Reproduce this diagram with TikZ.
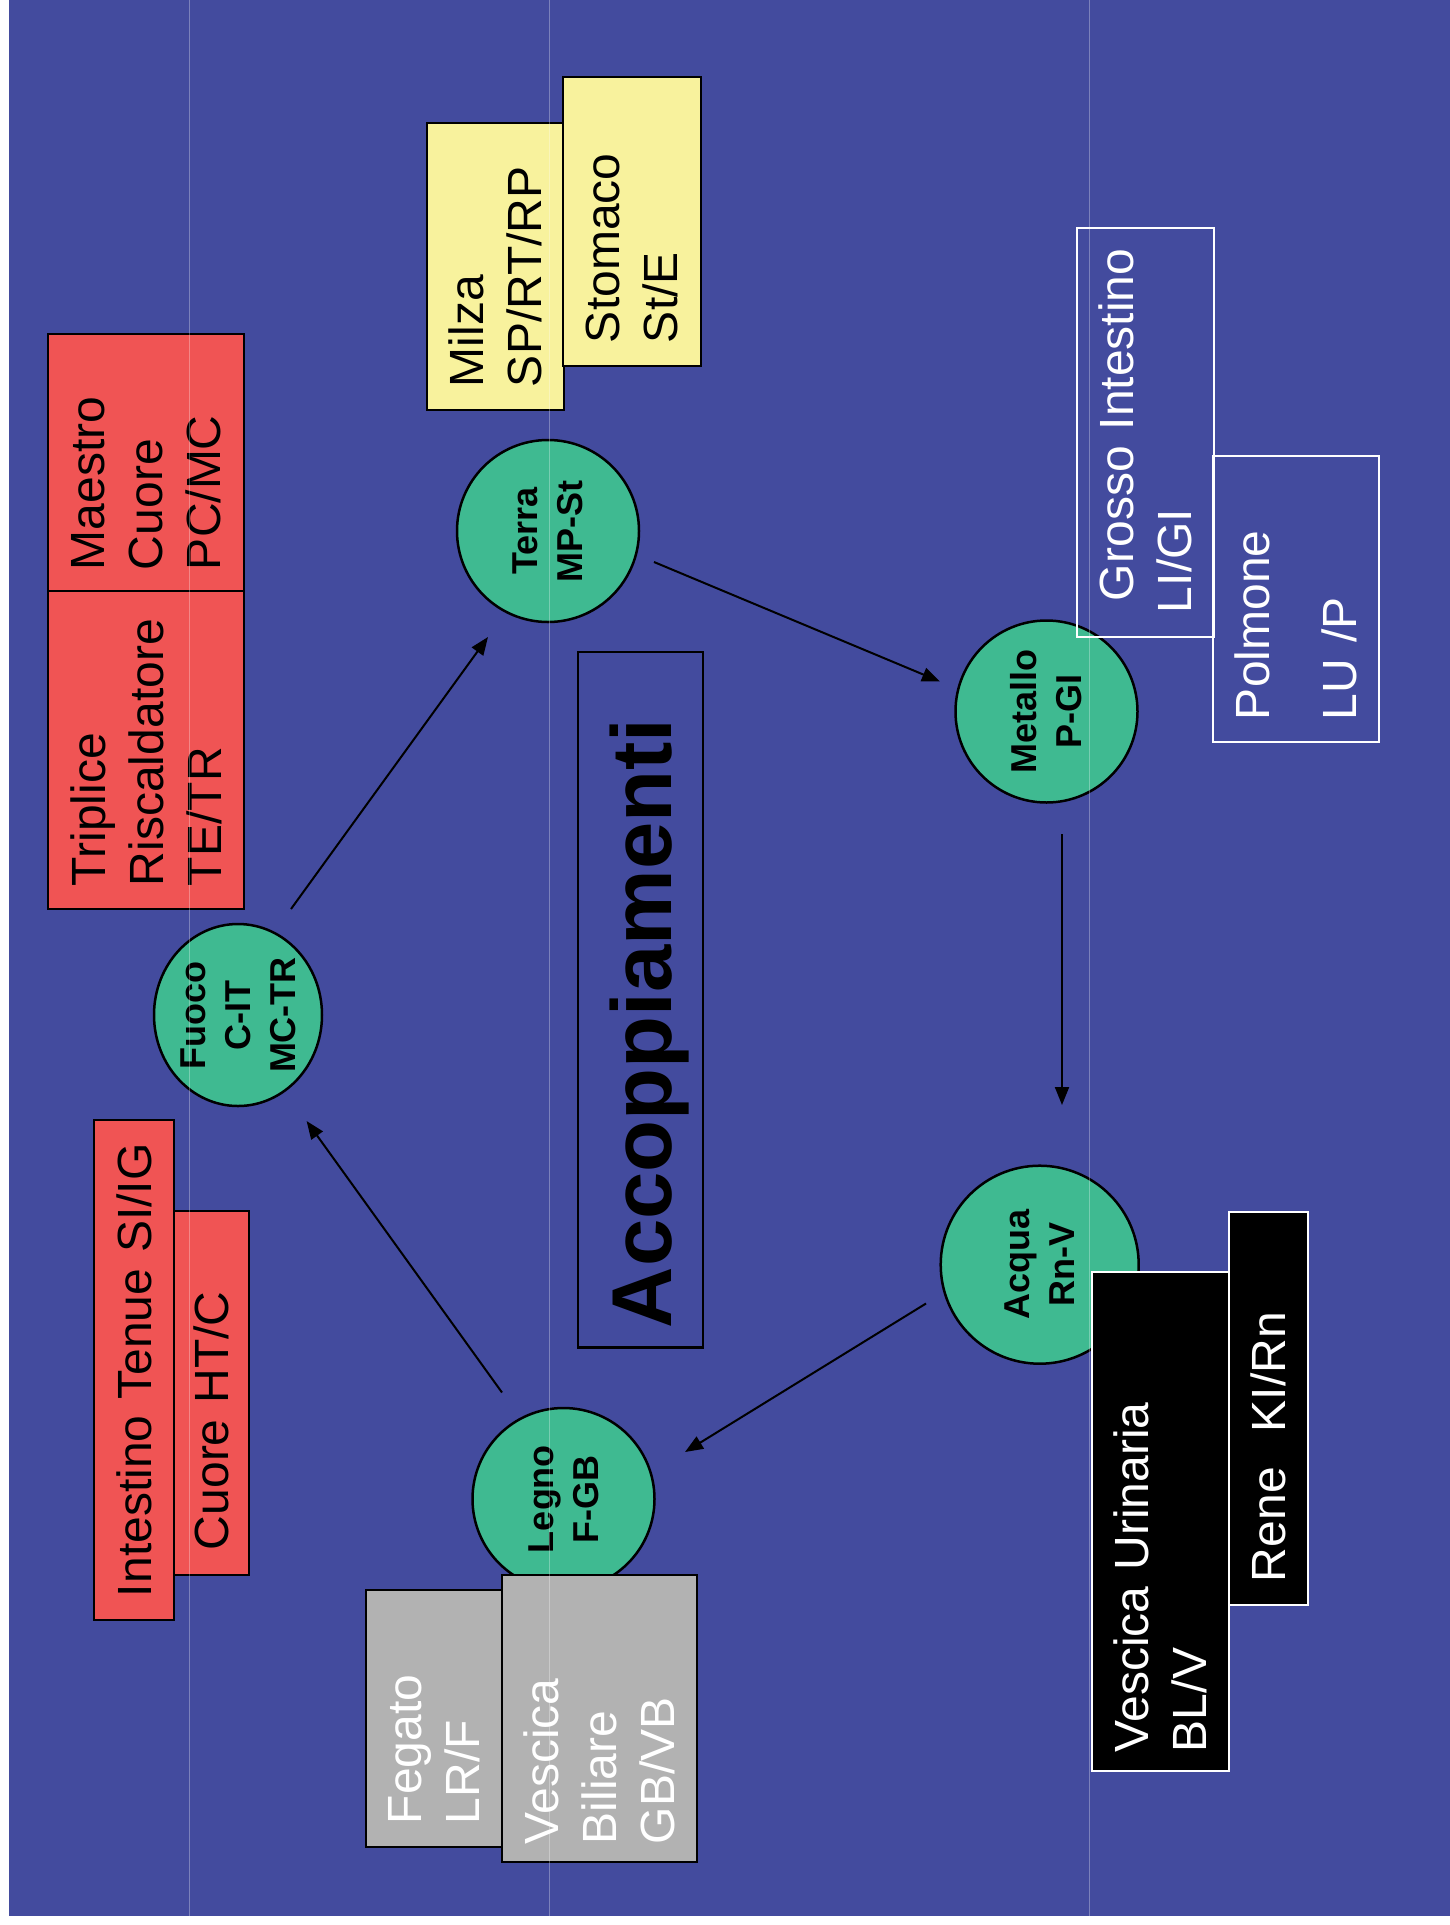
\documentclass[tikz,border=0pt]{standalone}
\usepackage{fontspec}
\setmainfont{Liberation Sans}
\usetikzlibrary{shapes.geometric,arrows.meta}
\definecolor{bgblue}{RGB}{67,75,158}
\definecolor{boxred}{RGB}{240,84,84}
\definecolor{boxyellow}{RGB}{248,242,157}
\definecolor{boxgray}{RGB}{178,178,178}
\definecolor{elgreen}{RGB}{63,186,145}
\begin{document}
\begin{tikzpicture}[x=1pt,y=-1pt,
  elem/.style={draw=black, fill=elgreen, line width=2.5pt, rotate=90, inner sep=0pt,
    align=center, font=\bfseries\fontsize{36}{45}\selectfont},
  organ/.style={line width=2.5pt, rotate=90, inner ysep=0pt, align=left,
    font=\fontsize{48}{58}\selectfont},
  darkorgan/.style={organ, draw=black, text=black},
  lightorgan/.style={organ, draw=white, text=white},
  arr/.style={draw=black, line width=2pt, -{Triangle[length=18pt,width=14pt]}},
  guide/.style={draw=white, draw opacity=0.3, line width=1.2pt}
]
\useasboundingbox (0,0) rectangle (1450,1925);
\fill[bgblue] (9,0) rectangle (1450,1916);

% elements
\node[elem, ellipse, minimum width=182pt, minimum height=168pt] (fuoco) at (238,1015) {Fuoco\\C-IT\\MC-TR};
\node[elem, circle, minimum size=182pt] (terra) at (548,531) {Terra\\MP-St};
\node[elem, circle, minimum size=182pt] (metallo) at (1046.5,711.5) {Metallo\\P-GI};
\node[elem, circle, minimum size=198pt] (acqua) at (1039.7,1264.7) {Acqua\\Rn-V};
\node[elem, circle, minimum size=182pt] (legno) at (563.5,1499) {Legno\\F-GB};

% organ boxes
\node[darkorgan, fill=boxred, minimum width=318pt, minimum height=196pt, text width=272pt, inner xsep=23pt] (triplice) at (146,750) {Triplice\\Riscaldatore\\TE/TR};
\node[darkorgan, fill=boxred, minimum width=257pt, minimum height=196pt, text width=215pt, inner xsep=21pt] (maestro) at (146,462.5) {Maestro\\Cuore\\PC/MC};
\node[darkorgan, fill=boxred, minimum width=500pt, minimum height=80pt, text width=454pt, inner xsep=23pt] (intestino) at (134,1370) {Intestino Tenue SI/IG};
\node[darkorgan, fill=boxred, minimum width=364pt, minimum height=75pt, text width=314pt, inner xsep=25pt] (cuore) at (211.5,1393) {Cuore HT/C};
\node[darkorgan, fill=boxyellow, minimum width=287pt, minimum height=137pt, text width=241pt, inner xsep=23pt] (milza) at (495.5,266.5) {Milza\\SP/RT/RP};
\node[darkorgan, fill=boxyellow, minimum width=289pt, minimum height=138pt, text width=243pt, inner xsep=23pt] (stomaco) at (632,221.5) {Stomaco\\St/E};
\node[lightorgan, minimum width=409pt, minimum height=137pt, text width=361pt, inner xsep=24pt] (grosso) at (1145.5,432.5) {\mbox{\hspace*{12pt}Grosso Intestino}\\LI/GI};
\node[lightorgan, minimum width=286pt, minimum height=166pt, text width=242pt, inner xsep=22pt] (polmone) at (1296,599) {Polmone\\[29pt]LU /P};
\node[lightorgan, fill=black, minimum width=499pt, minimum height=137pt, text width=461pt, inner xsep=19pt] (vescicau) at (1160.5,1521.5) {Vescica Urinaria\\BL/V};
\node[lightorgan, fill=black, minimum width=393pt, minimum height=79pt, text width=347pt, inner xsep=23pt] (rene) at (1268.5,1408.5) {Rene\hspace{35pt}KI/Rn};
\node[darkorgan, fill=boxgray, text=white, minimum width=257pt, minimum height=136pt, text width=211pt, inner xsep=23pt] (fegato) at (434,1718.5) {Fegato\\LR/F};
\node[darkorgan, fill=boxgray, text=white, minimum width=287pt, minimum height=195pt, text width=251pt, inner xsep=18pt] (vescicab) at (599.5,1718.5) {Vescica\\Biliare\\GB/VB};

% title
\node[draw=black, line width=2.5pt, rotate=90, minimum width=695.5pt, minimum height=125pt,
  text width=656.5pt, inner xsep=19.5pt, inner ysep=0pt, align=left, text depth=0pt,
  font=\bfseries\fontsize{85}{100}\selectfont] (acc) at (640.5,999.75) {Accoppiamenti};

% cycle arrows
\draw[arr] ([shift={(53,-106)}]fuoco.center) -- ([shift={(-60,106)}]terra.center);
\draw[arr] ([shift={(106,31)}]terra.center) -- ([shift={(-106.5,-30)}]metallo.center);
\draw[arr] ([shift={(15.5,122.5)}]metallo.center) -- ([shift={(22.3,-159.7)}]acqua.center);
\draw[arr] ([shift={(-113.7,38.8)}]acqua.center) -- ([shift={(121.5,-47)}]legno.center);
\draw[arr] ([shift={(-61.5,-106.5)}]legno.center) -- ([shift={(68.6,106)}]fuoco.center);

% faint guide lines
\draw[guide] (189.5,0) -- (189.5,1916);
\draw[guide] (549.5,0) -- (549.5,1916);
\draw[guide] (1089.3,0) -- (1089.3,1916);
\end{tikzpicture}
\end{document}
